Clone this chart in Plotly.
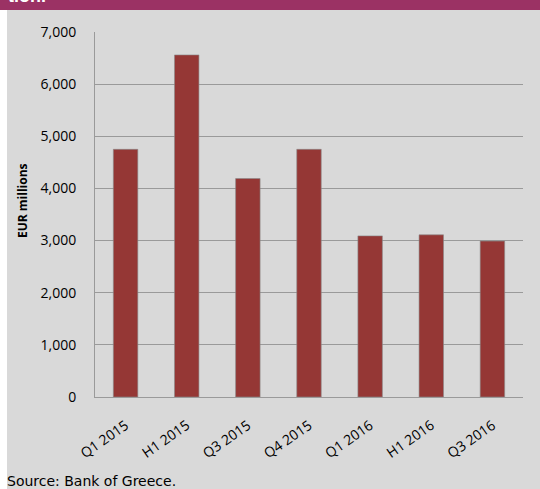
import plotly.graph_objects as go

categories = ["Q1 2015", "H1 2015", "Q3 2015", "Q4 2015", "Q1 2016", "H1 2016", "Q3 2016"]
values = [4750, 6560, 4190, 4750, 3090, 3110, 2990]
y_ticks = [0, 1000, 2000, 3000, 4000, 5000, 6000, 7000]
y_tick_labels = ["0", "1,000", "2,000", "3,000", "4,000", "5,000", "6,000", "7,000"]

W, H = 540, 489
L, R, T, B = 95, 17, 32, 92
PW, PH = W - L - R, H - T - B


def px(x):
    return (x - L) / PW


def py(y):
    return (H - B - y) / PH


BG = "#D9D9D9"
BAR = "#953735"
PURPLE = "#9B3264"
GRID = "#9A9A9A"

fig = go.Figure()
fig.add_trace(go.Bar(
    x=categories, y=values,
    marker=dict(color=BAR, line=dict(color="#8A8A8A", width=0.6)),
    hoverinfo="x+y",
))

fig.update_layout(
    width=W, height=H, autosize=False,
    margin=dict(l=L, r=R, t=T, b=B),
    paper_bgcolor=BG, plot_bgcolor=BG,
    bargap=0.6,
    showlegend=False,
    font=dict(family="Open Sans", size=14, color="#000000"),
    xaxis=dict(
        showgrid=False, showline=True, linecolor=GRID, linewidth=1,
        tickangle=-35, ticks="", ticklabelstandoff=14,
        tickfont=dict(family="Open Sans", size=14, color="#000000"),
    ),
    yaxis=dict(
        range=[0, 7000], tickvals=y_ticks, ticktext=y_tick_labels,
        showgrid=True, gridcolor=GRID, gridwidth=1,
        showline=True, linecolor=GRID, linewidth=1,
        zeroline=False, ticks="", ticklabelstandoff=15,
        tickfont=dict(family="Open Sans", size=14, color="#000000"),
    ),
    shapes=[
        dict(type="rect", xref="paper", yref="paper",
             x0=px(0), x1=px(7), y0=py(H), y1=py(0),
             fillcolor="#FFFFFF", line=dict(width=0), layer="above"),
        dict(type="rect", xref="paper", yref="paper",
             x0=px(0), x1=px(W), y0=py(10), y1=py(0),
             fillcolor=PURPLE, line=dict(width=0), layer="above"),
    ],
    annotations=[
        dict(text="<b>tion.</b>", xref="paper", yref="paper",
             x=px(6), y=py(8), xanchor="left", yanchor="bottom",
             showarrow=False, font=dict(family="Liberation Sans", size=18, color="#FFFFFF")),
        dict(text="<b>EUR millions</b>", xref="paper", yref="paper",
             x=px(22), y=py(201), xanchor="center", yanchor="middle", textangle=-90,
             showarrow=False, font=dict(family="Open Sans", size=12, color="#000000")),
        dict(text="Source: Bank of Greece.", xref="paper", yref="paper",
             x=px(5), y=py(481), xanchor="left", yanchor="middle",
             showarrow=False, font=dict(family="DejaVu Sans", size=14, color="#000000")),
    ],
)

fig.write_html("out.html", config={"displayModeBar": False},
               post_script="document.body.style.margin='0px';document.body.style.overflow='hidden';")
